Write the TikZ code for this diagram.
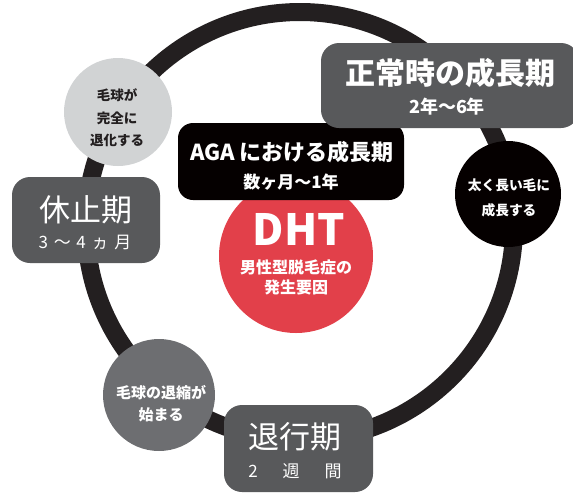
\documentclass[tikz,border=0pt]{standalone}
\usepackage{fontspec}
\newfontfamily\jp{Noto Sans CJK JP}
\definecolor{ringc}{HTML}{231F20}
\definecolor{boxgray}{HTML}{58595B}
\definecolor{midgray}{HTML}{6D6E71}
\definecolor{lightgray}{HTML}{D1D3D4}
\definecolor{dhtred}{HTML}{E2404A}
\definecolor{nearblack}{HTML}{050000}
\tikzset{
  phasebox/.style={fill=boxgray, rounded corners=18pt, inner sep=0pt},
  agabox/.style={fill=nearblack, rounded corners=15pt, inner sep=0pt},
  disc/.style={circle, inner sep=0pt},
  wtxt/.style={text=white, inner sep=0pt, font=\jp, align=center},
  dtxt/.style={text=ringc, inner sep=0pt, font=\jp, align=center},
}
\begin{document}
\begin{tikzpicture}[x=1pt, y=-1pt]
\useasboundingbox (0,0) rectangle (573,496);
\clip (0,0) rectangle (573,496);
% ring
\draw[line width=18pt, ringc] (300,226) circle (214pt);
% small circles
\node[disc, fill=lightgray, minimum size=108pt] (c1) at (118,112) {};
\node[disc, fill=nearblack, minimum size=106pt] (c2) at (508,194) {};
\node[disc, fill=midgray, minimum size=112pt] (c3) at (159,395) {};
% red circle
\node[disc, fill=dhtred, minimum size=154pt] (red) at (296,256) {};
% boxes
\node[agabox, minimum width=226pt, minimum height=77pt] (aga) at (291,161.5) {};
\node[phasebox, minimum width=258pt, minimum height=85pt] (norm) at (450,85.5) {};
\node[phasebox, minimum width=148pt, minimum height=86pt] (rest) at (86,220) {};
\node[phasebox, minimum width=149pt, minimum height=87pt] (regr) at (298.5,448.5) {};
% texts
\node[wtxt, font=\jp\bfseries\fontsize{30}{30}\selectfont] (t1a) at (450,73) {正常時の成長期};
\node[wtxt, font=\jp\bfseries\fontsize{18}{18}\selectfont] (t1b) at (447,107) {2年〜6年};
\node[wtxt, font=\jp\bfseries\fontsize{22}{22}\selectfont] (t2a) at (292,152) {AGA における成長期};
\node[wtxt, font=\jp\bfseries\fontsize{17}{17}\selectfont] (t2b) at (291,182) {数ヶ月〜1年};
\node[wtxt, font=\jp\bfseries\fontsize{43}{43}\selectfont] (dht) at (299,229) {DHT};
\node[wtxt, font=\jp\bfseries\fontsize{16}{20}\selectfont] (dhtsub) at (296,277) {男性型脱毛症の\\発生要因};
\node[wtxt, font=\jp\fontsize{31}{31}\selectfont] (t3a) at (86,210) {休止期};
\node[wtxt, font=\jp\fontsize{17}{17}\selectfont] (t3b) at (85,242) {3\,\,〜\,\,4\,\,ヵ\,\,月};
\node[wtxt, font=\jp\fontsize{31}{31}\selectfont] (t4a) at (295,437) {退行期};
\node[wtxt, font=\jp\fontsize{17}{17}\selectfont] (t4b) at (295,471) {2\hspace{25pt}週\hspace{25pt}間};
\node[dtxt, font=\jp\bfseries\fontsize{13.5}{22.5}\selectfont] (c1t) at (117,118) {毛球が\\完全に\\退化する};
\node[wtxt, font=\jp\bfseries\fontsize{13.7}{25}\selectfont] (c2t) at (509,198) {太く長い毛に\\成長する};
\node[wtxt, font=\jp\bfseries\fontsize{15}{22}\selectfont] (c3t) at (161,404) {毛球の退縮が\\始まる};
\end{tikzpicture}
\end{document}
